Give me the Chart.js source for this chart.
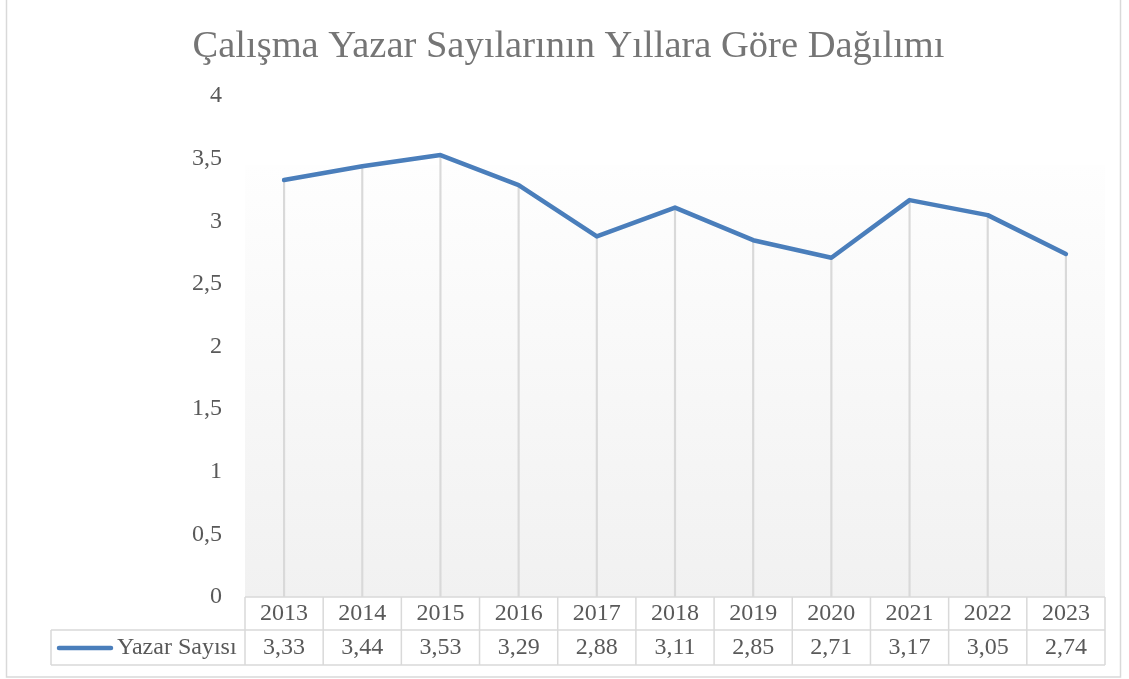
<!DOCTYPE html>
<html>
<head>
<meta charset="utf-8">
<script src="https://cdn.jsdelivr.net/npm/chart.js@4"></script>
<style>
  html, body { margin: 0; padding: 0; background: #fff; }
  #wrap { position: relative; width: 1129px; height: 679px; }
</style>
</head>
<body>
<div id="wrap"><canvas id="yazarChart" width="1129" height="679"></canvas></div>
<script>
// Çalışma yazar sayıları chart

const years = ['2013', '2014', '2015', '2016', '2017', '2018', '2019', '2020', '2021', '2022', '2023']
const yazarSayisi = [3.33, 3.44, 3.53, 3.29, 2.88, 3.11, 2.85, 2.71, 3.17, 3.05, 2.74]
const seriesName = 'Yazar Sayısı'
const chartTitle = 'Çalışma Yazar Sayılarının Yıllara Göre Dağılımı'

const FONT = '"Liberation Serif", "Times New Roman", serif'
const TEXT_COLOR = '#595959'
const LINE_COLOR = '#4a7ebb'
const BORDER = '#d9d9d9'

const fmt = (v) => String(v).replace('.', ',')

// plot background + outer frame
const backgroundPlugin = {
    id: 'bgPlugin',
    beforeDraw(chart) {
        const { ctx, chartArea } = chart
        ctx.save()
        const top = chartArea.top + 69
        const grad = ctx.createLinearGradient(0, top, 0, chartArea.bottom)
        grad.addColorStop(0, '#fefefe')
        grad.addColorStop(1, '#f1f1f1')
        ctx.fillStyle = grad
        ctx.fillRect(chartArea.left, top, chartArea.right - chartArea.left, chartArea.bottom - top)
        ctx.restore()
    },
    afterDraw(chart) {
        const { ctx } = chart
        ctx.save()
        ctx.strokeStyle = BORDER
        ctx.lineWidth = 1.5
        ctx.strokeRect(6.5, -2, 1114, 679)
        ctx.restore()
    }
}

// Excel style data table under the plot
const dataTablePlugin = {
    id: 'dataTable',
    afterDraw(chart) {
        const { ctx, chartArea } = chart
        const xScale = chart.scales.x
        const rowTop = chartArea.bottom
        const rowMid = rowTop + 33
        const rowBot = rowTop + 68
        const legendLeft = 51
        const n = years.length
        const half = (xScale.getPixelForValue(1) - xScale.getPixelForValue(0)) / 2

        ctx.save()
        ctx.strokeStyle = BORDER
        ctx.lineWidth = 1.5
        ctx.beginPath()
        // horizontal lines
        ctx.moveTo(chartArea.left, rowTop); ctx.lineTo(chartArea.right, rowTop)
        ctx.moveTo(legendLeft, rowMid); ctx.lineTo(chartArea.right, rowMid)
        ctx.moveTo(legendLeft, rowBot); ctx.lineTo(chartArea.right, rowBot)
        // vertical lines
        ctx.moveTo(legendLeft, rowMid); ctx.lineTo(legendLeft, rowBot)
        for (let i = 0; i <= n; i++) {
            const x = i < n ? xScale.getPixelForValue(i) - half : xScale.getPixelForValue(n - 1) + half
            ctx.moveTo(x, rowTop); ctx.lineTo(x, rowBot)
        }
        ctx.stroke()

        ctx.fillStyle = TEXT_COLOR
        ctx.font = '24px ' + FONT
        ctx.textAlign = 'center'
        ctx.textBaseline = 'middle'
        for (let i = 0; i < n; i++) {
            const x = xScale.getPixelForValue(i)
            ctx.fillText(years[i], x, rowTop + 17)
            ctx.fillText(fmt(yazarSayisi[i]), x, rowMid + 18)
        }

        // legend key
        ctx.strokeStyle = LINE_COLOR
        ctx.lineWidth = 4.5
        ctx.lineCap = 'round'
        ctx.beginPath()
        ctx.moveTo(59, rowMid + 18)
        ctx.lineTo(111, rowMid + 18)
        ctx.stroke()
        ctx.textAlign = 'left'
        ctx.fillText(seriesName, 117, rowMid + 18)
        ctx.restore()
    }
}

const ctxEl = document.getElementById('yazarChart')

new Chart(ctxEl, {
    data: {
        labels: years,
        datasets: [
            {
                type: 'line',
                label: seriesName,
                data: yazarSayisi,
                borderColor: LINE_COLOR,
                borderWidth: 4.5,
                tension: 0,
                pointRadius: 0,
                borderJoinStyle: 'round',
                borderCapStyle: 'round',
                order: 1,
            },
            {
                // drop lines
                type: 'bar',
                label: 'drop',
                data: yazarSayisi,
                backgroundColor: '#d9d9d9',
                barThickness: 1.5,
                order: 2,
            },
        ]
    },
    options: {
        responsive: false,
        animation: false,
        layout: { padding: { left: 32, right: 24, top: 0, bottom: 82 } },
        plugins: {
            legend: { display: false },
            tooltip: { enabled: false },
            title: {
                display: true,
                text: chartTitle,
                color: '#757575',
                font: { family: FONT, size: 38.5, weight: 'normal' },
                padding: { top: 24, bottom: 26 },
            },
        },
        scales: {
            x: {
                display: false,
                offset: true,
            },
            y: {
                min: 0,
                max: 4,
                border: { display: false },
                grid: { display: false, drawTicks: false },
                ticks: {
                    stepSize: 0.5,
                    padding: 23,
                    color: TEXT_COLOR,
                    font: { family: FONT, size: 24 },
                    callback: (v) => fmt(v),
                },
                afterFit: (scale) => { scale.width = 213 },
            },
        },
    },
    plugins: [backgroundPlugin, dataTablePlugin],
})
</script>
</body>
</html>
